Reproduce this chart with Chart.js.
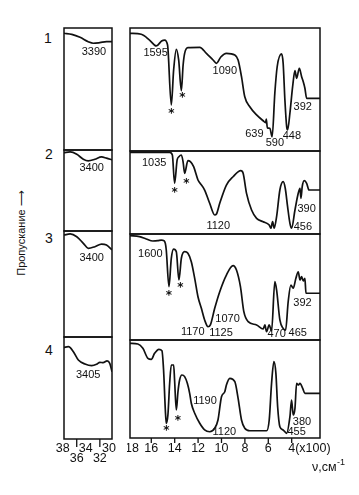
<!DOCTYPE html>
<html><head><meta charset="utf-8">
<script src="https://cdn.jsdelivr.net/npm/chart.js"></script>
<style>
html,body{margin:0;padding:0;background:#fff;}
body{width:359px;height:495px;overflow:hidden;position:relative;font-family:"Liberation Sans",Arial,sans-serif;color:#111;}
canvas{position:absolute;}
.num{position:absolute;font-size:14px;line-height:14px;width:14px;text-align:center;}
.ytitle{position:absolute;font-size:11px;white-space:nowrap;transform:translate(-50%,-50%) rotate(-90deg);}
</style></head>
<body>
<div class="num" style="left:41px;top:31px">1</div>
<div class="num" style="left:42px;top:147px">2</div>
<div class="num" style="left:42px;top:231px">3</div>
<div class="num" style="left:42px;top:343px">4</div>
<div class="ytitle" style="left:21px;top:233px">Пропускание ⟶</div>
<script>
// ---- DATA: wavenumber (cm-1), transmission (%) ----
// OH-stretch region (3800-3000 cm-1)
const oh1 = [[3820,95.7],[3685,94.8],[3543,92.4],[3401,88.8],[3315,87.5],[3200,88.0],[3085,88.8],[2990,88.8]];
const oh2 = [[3820,96.7],[3714,97.6],[3599,94.7],[3486,88.6],[3401,86.6],[3286,88.6],[3171,91.5],[3085,89.9],[2990,87.8]];
const oh3 = [[3820,96.2],[3714,97.2],[3599,94.6],[3486,88.4],[3401,83.7],[3286,85.2],[3171,87.7],[3085,86.8],[2990,82.1]];
const oh4 = [[3820,89.9],[3743,90.5],[3658,85.6],[3572,77.5],[3457,73.5],[3342,71.9],[3257,73.2],[3200,75.2],[3144,74.8],[3075,76.5],[3029,74.2],[2990,66.0]];
// Fingerprint region (1800-160 cm-1)
const fp1 = [[1782,95.7],[1686,94.9],[1615,90.2],[1557,85.4],[1512,89.4],[1486,90.2],[1461,86.2],[1429,37.4],[1409,65.9],[1386,82.7],[1366,74.0],[1343,49.0],[1328,69.9],[1315,79.4],[1287,84.0],[1186,84.3],[1129,79.4],[1072,74.0],[1043,71.3],[1006,76.4],[958,79.4],[886,78.0],[858,74.0],[829,60.4],[801,44.1],[758,36.0],[700,29.3],[644,24.6],[623,23.0],[617,26.0],[608,18.7],[587,18.5],[567,11.6],[544,47.2],[524,68.5],[486,78.9],[473,71.3],[458,41.5],[443,19.8],[435,17.1],[415,30.9],[392,52.3],[372,65.3],[358,59.1],[335,67.2],[315,60.4],[301,56.3],[287,51.0],[272,42.8],[158,42.8]];
const fp2 = [[1782,98.4],[1443,98.4],[1420,95.2],[1401,61.1],[1379,89.2],[1364,93.1],[1343,95.2],[1328,86.7],[1315,73.1],[1287,88.3],[1266,87.1],[1238,81.1],[1201,65.1],[1186,61.8],[1144,53.0],[1101,37.0],[1058,22.9],[1043,24.1],[1015,37.0],[958,59.0],[901,69.0],[835,76.3],[815,73.1],[786,49.0],[743,28.9],[700,18.9],[644,14.8],[592,10.8],[578,6.9],[563,14.8],[550,6.9],[529,20.8],[501,53.0],[473,63.0],[455,55.1],[435,32.9],[415,12.9],[401,6.9],[372,28.9],[344,49.0],[329,55.1],[321,43.0],[310,57.0],[293,64.2],[272,61.1],[252,53.0],[158,53.0]];
const fp3 = [[1782,98.4],[1701,97.5],[1643,95.3],[1587,93.4],[1544,93.7],[1515,94.3],[1492,93.7],[1480,91.2],[1472,84.9],[1449,50.3],[1429,77.1],[1409,85.8],[1386,83.3],[1364,56.6],[1343,77.1],[1315,83.3],[1287,81.8],[1258,73.9],[1229,58.2],[1201,40.8],[1172,29.9],[1144,18.9],[1115,12.5],[1095,14.2],[1058,29.9],[1015,45.6],[958,61.3],[901,70.1],[872,66.0],[838,50.3],[809,26.7],[772,17.3],[700,14.2],[644,10.4],[629,14.2],[615,7.8],[592,14.2],[572,8.5],[544,55.0],[529,47.2],[501,18.9],[473,11.0],[452,9.4],[430,36.1],[407,51.9],[387,48.8],[364,58.2],[344,64.4],[329,56.6],[315,59.7],[301,55.7],[287,58.2],[278,44.1],[158,44.1]];
const fp4 = [[1782,96.6],[1715,95.9],[1672,91.5],[1629,81.3],[1600,80.3],[1572,86.4],[1535,90.5],[1509,89.1],[1495,69.4],[1480,28.6],[1472,15.0],[1458,23.5],[1443,55.8],[1429,74.5],[1409,74.5],[1401,59.2],[1386,28.6],[1372,47.2],[1358,59.2],[1338,64.3],[1315,62.6],[1292,55.8],[1272,45.6],[1258,35.4],[1229,25.2],[1186,15.0],[1144,8.2],[1101,6.4],[1058,9.9],[1030,18.4],[1000,42.1],[972,47.2],[958,54.1],[929,60.9],[886,57.4],[858,40.5],[829,18.4],[801,9.9],[758,7.4],[615,7.4],[592,18.4],[572,55.8],[552,77.9],[535,66.0],[520,31.9],[501,11.5],[473,8.2],[443,4.8],[415,21.7],[401,38.8],[387,23.5],[372,30.3],[358,55.8],[344,54.1],[329,55.8],[306,50.7],[287,45.6],[158,45.6]];
// Peak annotations: [text, wavenumber, transmission]
const ann1L = [['3390',3303,80.3]];
const ann2L = [['3400',3342,77.4]];
const ann3L = [['3400',3342,74.2]];
const ann4L = [['3405',3401,62.7]];
const ann1R = [['1595',1563,79.3],['*',1429,32.5],['*',1335,45.5],['1090',972,65.4],['639',719,13.8],['590',544,6.9],['448',398,12.2],['392',306,35.8]];
const ann2R = [['1035',1575,85.5],['*',1401,53],['*',1300,63],['1120',1028,9.6],['390',272,30.1],['456',304,8.8]];
const ann3R = [['1600',1608,81.3],['*',1449,44.1],['*',1352,51.9],['1070',948,20],['1170',1246,7.5],['1125',1004,7.1],['470',529,5.8],['465',348,6.8],['392',308,34.6]];
const ann4R = [['*',1472,9.9],['*',1372,20.1],['1190',1141,37.4],['1120',976,6.4],['380',312,16.3],['455',358,5.9]];
// Axis ticks
const rightTickVals = [1800,1600,1400,1200,1000,800,600,400];
const rightTickText = ['18','16','14','12','10','8','6','4'];
const leftTickVals = [3800,3600,3400,3200,3000];
const leftTickText = ['38','36','34','32','30'];
const rangeL = [2990,3820];
const rangeR = [158,1782];

// ---- LAYOUT ----
const colL = {x:64, w:48};
const colR = {x:130, w:190};
const rowsL = [[28,150],[150,231],[231,337],[337,439]];
const rowsR = [[28,151],[151,234],[234,340],[340,438]];

function framePlugin(labels, axis){
  return {
    id:'frame',
    afterDatasetsDraw(chart){
      const ctx = chart.ctx, a = chart.chartArea, x = chart.scales.x, y = chart.scales.y;
      ctx.save();
      ctx.strokeStyle = '#111'; ctx.lineWidth = 1.5;
      ctx.strokeRect(a.left, a.top, a.right - a.left, a.bottom - a.top);
      ctx.fillStyle = '#111'; ctx.textAlign = 'center'; ctx.textBaseline = 'middle';
      for (const [t, w, v] of labels){
        const px = x.getPixelForValue(w), py = y.getPixelForValue(v);
        if (t === '*'){ ctx.font = 'bold 12px "DejaVu Sans"'; ctx.fillText('*', px, py + 2.5); }
        else { ctx.font = '11px "Liberation Sans"'; ctx.fillText(t, px, py); }
      }
      ctx.lineWidth = 1.3;
      if (axis === 'right'){
        ctx.font = '12.5px "Liberation Sans"';
        rightTickVals.forEach((v, i) => {
          let px = x.getPixelForValue(v);
          if (px > a.left + 2){ ctx.beginPath(); ctx.moveTo(px, a.bottom); ctx.lineTo(px, a.bottom + 5); ctx.stroke(); }
          else px = a.left + 2;
          ctx.fillText(rightTickText[i], px, a.bottom + 10.5);
        });
        ctx.textAlign = 'left';
        ctx.fillText('(x100)', x.getPixelForValue(400) + 3.5, a.bottom + 10.5);
        const ux = a.right - 8;
        ctx.fillText('ν,см', ux, a.bottom + 30);
        const uw = ctx.measureText('ν,см').width;
        ctx.font = '9px "Liberation Sans"';
        ctx.fillText('-1', ux + uw + 0.5, a.bottom + 25);
      }
      if (axis === 'left'){
        ctx.font = '12.5px "Liberation Sans"';
        leftTickVals.forEach((v, i) => {
          const px = x.getPixelForValue(v);
          if (i % 2 === 1){
            ctx.beginPath(); ctx.moveTo(px, a.bottom); ctx.lineTo(px, a.bottom + 8); ctx.stroke();
            ctx.fillText(leftTickText[i], px, a.bottom + 19.5);
          } else {
            ctx.fillText(leftTickText[i], px - 2.5, a.bottom + 10);
          }
        });
      }
      ctx.restore();
    }
  };
}

function panel(col, row, range, data, labels, axis){
  const pad = {left:3, right:3, top:3, bottom:3};
  if (axis === 'right'){ pad.bottom = 42; pad.right = 38; }
  if (axis === 'left'){ pad.bottom = 30; pad.left = 12; pad.right = 10; }
  const bw = col.w, bh = row[1] - row[0];
  const W = bw + pad.left + pad.right, H = bh + pad.top + pad.bottom;
  const c = document.createElement('canvas');
  c.width = W; c.height = H;
  c.style.left = (col.x - pad.left) + 'px'; c.style.top = (row[0] - pad.top) + 'px';
  c.style.width = W + 'px'; c.style.height = H + 'px';
  document.body.appendChild(c);
  new Chart(c, {
    type:'line',
    data:{datasets:[{data:data.map(([w, t]) => ({x:w, y:t})), borderColor:'#111', borderWidth:1.7,
      pointRadius:0, cubicInterpolationMode:'monotone', fill:false}]},
    options:{responsive:false, animation:false, devicePixelRatio:1, events:[],
      layout:{padding:pad},
      scales:{x:{type:'linear', reverse:true, min:range[0], max:range[1], display:false},
              y:{min:0, max:100, display:false}},
      plugins:{legend:{display:false}, tooltip:{enabled:false}}},
    plugins:[framePlugin(labels, axis)]
  });
}

const ohSets = [oh1, oh2, oh3, oh4], fpSets = [fp1, fp2, fp3, fp4];
const annL = [ann1L, ann2L, ann3L, ann4L], annR = [ann1R, ann2R, ann3R, ann4R];
for (let i = 0; i < 4; i++){
  panel(colL, rowsL[i], rangeL, ohSets[i], annL[i], i === 3 ? 'left' : null);
  panel(colR, rowsR[i], rangeR, fpSets[i], annR[i], i === 3 ? 'right' : null);
}
</script>
</body></html>
